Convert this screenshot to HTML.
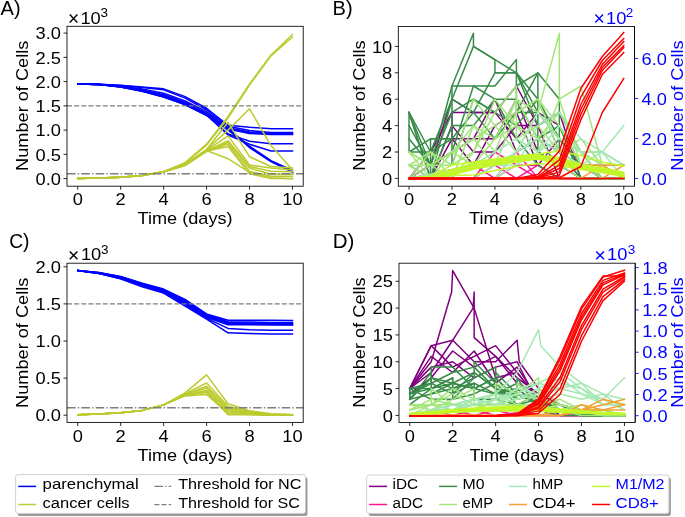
<!DOCTYPE html>
<html><head><meta charset="utf-8"><title>Figure</title>
<style>html,body{margin:0;padding:0;background:#fff;}svg{display:block;will-change:transform;}text{font-family:"Liberation Sans",sans-serif;}</style>
</head><body>
<svg width="685" height="517" viewBox="0 0 685 517">
<defs>
<filter id="soft" x="0" y="0" width="685" height="517" filterUnits="userSpaceOnUse"><feGaussianBlur stdDeviation="0.35"/></filter>
<clipPath id="cA"><rect x="67.0" y="26.3" width="236.2" height="159.89999999999998"/></clipPath>
<clipPath id="cB"><rect x="398.3" y="26.5" width="236.2" height="159.7"/></clipPath>
<clipPath id="cC"><rect x="67.0" y="263.2" width="236.2" height="159.2"/></clipPath>
<clipPath id="cD"><rect x="399.0" y="263.2" width="236.20000000000005" height="159.3"/></clipPath>
</defs>
<rect width="685" height="517" fill="#fff"/>
<g filter="url(#soft)">
<g clip-path="url(#cA)">
<polyline points="77.74,84.02 99.21,84.27 120.68,85.24 142.15,86.94 163.63,88.87 185.10,96.63 206.57,108.27 228.05,125.25 249.52,127.19 270.99,128.64 292.46,128.64" fill="none" stroke="#0000ff" stroke-width="1.5" stroke-linejoin="round" stroke-linecap="square"/>
<polyline points="77.74,84.02 99.21,84.27 120.68,85.48 142.15,87.42 163.63,89.84 185.10,98.09 206.57,109.73 228.05,126.22 249.52,130.58 270.99,132.53 292.46,132.53" fill="none" stroke="#0000ff" stroke-width="1.5" stroke-linejoin="round" stroke-linecap="square"/>
<polyline points="77.74,84.02 99.21,84.51 120.68,85.97 142.15,88.87 163.63,93.24 185.10,101.00 206.57,111.67 228.05,127.67 249.52,132.04 270.99,133.50 292.46,133.50" fill="none" stroke="#0000ff" stroke-width="1.5" stroke-linejoin="round" stroke-linecap="square"/>
<polyline points="77.74,84.02 99.21,84.51 120.68,86.45 142.15,89.84 163.63,94.69 185.10,102.45 206.57,113.12 228.05,128.64 249.52,132.53 270.99,133.98 292.46,133.98" fill="none" stroke="#0000ff" stroke-width="1.5" stroke-linejoin="round" stroke-linecap="square"/>
<polyline points="77.74,84.02 99.21,84.51 120.68,86.45 142.15,90.33 163.63,95.66 185.10,103.42 206.57,114.09 228.05,129.13 249.52,133.50 270.99,134.47 292.46,134.47" fill="none" stroke="#0000ff" stroke-width="1.5" stroke-linejoin="round" stroke-linecap="square"/>
<polyline points="77.74,84.02 99.21,84.51 120.68,86.94 142.15,90.81 163.63,96.63 185.10,103.91 206.57,114.58 228.05,133.98 249.52,141.25 270.99,143.68 292.46,143.68" fill="none" stroke="#0000ff" stroke-width="1.5" stroke-linejoin="round" stroke-linecap="square"/>
<polyline points="77.74,84.02 99.21,84.51 120.68,86.94 142.15,91.30 163.63,97.12 185.10,104.39 206.57,115.06 228.05,134.95 249.52,144.16 270.99,150.95 292.46,150.95" fill="none" stroke="#0000ff" stroke-width="1.5" stroke-linejoin="round" stroke-linecap="square"/>
<polyline points="77.74,84.02 99.21,84.51 120.68,86.94 142.15,91.30 163.63,97.12 185.10,104.88 206.57,115.55 228.05,130.10 249.52,146.10 270.99,160.66 292.46,170.35" fill="none" stroke="#0000ff" stroke-width="1.5" stroke-linejoin="round" stroke-linecap="square"/>
<polyline points="77.74,84.02 99.21,84.51 120.68,86.45 142.15,90.81 163.63,96.63 185.10,104.39 206.57,115.06 228.05,129.13 249.52,147.07 270.99,161.14 292.46,171.32" fill="none" stroke="#0000ff" stroke-width="1.5" stroke-linejoin="round" stroke-linecap="square"/>
<polyline points="77.74,84.02 99.21,84.51 120.68,86.45 142.15,90.33 163.63,96.15 185.10,103.91 206.57,114.09 228.05,128.16 249.52,147.56 270.99,161.62 292.46,172.29" fill="none" stroke="#0000ff" stroke-width="1.5" stroke-linejoin="round" stroke-linecap="square"/>
<polyline points="77.74,178.60 99.21,178.11 120.68,177.14 142.15,175.45 163.63,171.81 185.10,162.59 206.57,144.16 228.05,116.52 249.52,84.02 270.99,54.92 292.46,34.55" fill="none" stroke="#bccb30" stroke-width="1.5" stroke-linejoin="round" stroke-linecap="square"/>
<polyline points="77.74,178.60 99.21,178.11 120.68,177.14 142.15,175.45 163.63,171.81 185.10,163.08 206.57,145.13 228.05,117.97 249.52,84.99 270.99,55.90 292.46,36.98" fill="none" stroke="#bccb30" stroke-width="1.5" stroke-linejoin="round" stroke-linecap="square"/>
<polyline points="77.74,178.60 99.21,178.11 120.68,177.14 142.15,175.45 163.63,171.81 185.10,164.05 206.57,149.50 228.05,130.10 249.52,108.76 270.99,145.62 292.46,169.87" fill="none" stroke="#bccb30" stroke-width="1.5" stroke-linejoin="round" stroke-linecap="square"/>
<polyline points="77.74,178.60 99.21,178.11 120.68,177.14 142.15,175.45 163.63,171.81 185.10,164.53 206.57,149.50 228.05,122.34 249.52,156.78 270.99,166.47 292.46,167.93" fill="none" stroke="#bccb30" stroke-width="1.5" stroke-linejoin="round" stroke-linecap="square"/>
<polyline points="77.74,178.60 99.21,178.11 120.68,177.14 142.15,175.45 163.63,171.81 185.10,164.53 206.57,150.47 228.05,135.92 249.52,165.02 270.99,167.93 292.46,169.87" fill="none" stroke="#bccb30" stroke-width="1.5" stroke-linejoin="round" stroke-linecap="square"/>
<polyline points="77.74,178.60 99.21,178.11 120.68,177.14 142.15,175.45 163.63,171.81 185.10,165.02 206.57,150.95 228.05,140.77 249.52,166.47 270.99,171.32 292.46,171.81" fill="none" stroke="#bccb30" stroke-width="1.5" stroke-linejoin="round" stroke-linecap="square"/>
<polyline points="77.74,178.60 99.21,178.11 120.68,177.14 142.15,175.45 163.63,171.81 185.10,165.02 206.57,151.44 228.05,142.47 249.52,167.93 270.99,174.23 292.46,174.23" fill="none" stroke="#bccb30" stroke-width="1.5" stroke-linejoin="round" stroke-linecap="square"/>
<polyline points="77.74,178.60 99.21,178.11 120.68,177.14 142.15,175.45 163.63,171.81 185.10,165.50 206.57,151.44 228.05,144.16 249.52,171.32 270.99,176.17 292.46,176.17" fill="none" stroke="#bccb30" stroke-width="1.5" stroke-linejoin="round" stroke-linecap="square"/>
<polyline points="77.74,178.60 99.21,178.11 120.68,177.14 142.15,175.45 163.63,171.81 185.10,165.50 206.57,150.95 228.05,146.59 249.52,173.75 270.99,178.60 292.46,178.60" fill="none" stroke="#bccb30" stroke-width="1.5" stroke-linejoin="round" stroke-linecap="square"/>
<polyline points="77.74,178.60 99.21,178.11 120.68,177.14 142.15,175.45 163.63,171.81 185.10,165.02 206.57,150.47 228.05,158.72 249.52,172.29 270.99,177.63 292.46,178.60" fill="none" stroke="#bccb30" stroke-width="1.5" stroke-linejoin="round" stroke-linecap="square"/>
<line x1="67.00" y1="105.85" x2="303.20" y2="105.85" stroke="#7f7f7f" stroke-width="1.35" stroke-dasharray="5.00 2.16"/>
<line x1="67.00" y1="173.75" x2="303.20" y2="173.75" stroke="#7f7f7f" stroke-width="1.35" stroke-dasharray="8.64 2.16 1.35 2.16"/>
</g>
<rect x="67.0" y="26.3" width="236.20" height="159.90" fill="none" stroke="#000" stroke-width="0.85"/>
<line x1="77.74" y1="186.20" x2="77.74" y2="189.70" stroke="#000" stroke-width="0.85"/>
<text x="77.74" y="205.00" font-size="16.80" text-anchor="middle" fill="#000" textLength="10.18" lengthAdjust="spacingAndGlyphs">0</text>
<line x1="120.68" y1="186.20" x2="120.68" y2="189.70" stroke="#000" stroke-width="0.85"/>
<text x="120.68" y="205.00" font-size="16.80" text-anchor="middle" fill="#000" textLength="10.18" lengthAdjust="spacingAndGlyphs">2</text>
<line x1="163.63" y1="186.20" x2="163.63" y2="189.70" stroke="#000" stroke-width="0.85"/>
<text x="163.63" y="205.00" font-size="16.80" text-anchor="middle" fill="#000" textLength="10.18" lengthAdjust="spacingAndGlyphs">4</text>
<line x1="206.57" y1="186.20" x2="206.57" y2="189.70" stroke="#000" stroke-width="0.85"/>
<text x="206.57" y="205.00" font-size="16.80" text-anchor="middle" fill="#000" textLength="10.18" lengthAdjust="spacingAndGlyphs">6</text>
<line x1="249.52" y1="186.20" x2="249.52" y2="189.70" stroke="#000" stroke-width="0.85"/>
<text x="249.52" y="205.00" font-size="16.80" text-anchor="middle" fill="#000" textLength="10.18" lengthAdjust="spacingAndGlyphs">8</text>
<line x1="292.46" y1="186.20" x2="292.46" y2="189.70" stroke="#000" stroke-width="0.85"/>
<text x="292.46" y="205.00" font-size="16.80" text-anchor="middle" fill="#000" textLength="20.36" lengthAdjust="spacingAndGlyphs">10</text>
<line x1="63.50" y1="178.60" x2="67.00" y2="178.60" stroke="#000" stroke-width="0.85"/>
<text x="61.00" y="184.80" font-size="16.80" text-anchor="end" fill="#000" textLength="25.45" lengthAdjust="spacingAndGlyphs">0.0</text>
<line x1="63.50" y1="154.35" x2="67.00" y2="154.35" stroke="#000" stroke-width="0.85"/>
<text x="61.00" y="160.55" font-size="16.80" text-anchor="end" fill="#000" textLength="25.45" lengthAdjust="spacingAndGlyphs">0.5</text>
<line x1="63.50" y1="130.10" x2="67.00" y2="130.10" stroke="#000" stroke-width="0.85"/>
<text x="61.00" y="136.30" font-size="16.80" text-anchor="end" fill="#000" textLength="25.45" lengthAdjust="spacingAndGlyphs">1.0</text>
<line x1="63.50" y1="105.85" x2="67.00" y2="105.85" stroke="#000" stroke-width="0.85"/>
<text x="61.00" y="112.05" font-size="16.80" text-anchor="end" fill="#000" textLength="25.45" lengthAdjust="spacingAndGlyphs">1.5</text>
<line x1="63.50" y1="81.60" x2="67.00" y2="81.60" stroke="#000" stroke-width="0.85"/>
<text x="61.00" y="87.80" font-size="16.80" text-anchor="end" fill="#000" textLength="25.45" lengthAdjust="spacingAndGlyphs">2.0</text>
<line x1="63.50" y1="57.35" x2="67.00" y2="57.35" stroke="#000" stroke-width="0.85"/>
<text x="61.00" y="63.55" font-size="16.80" text-anchor="end" fill="#000" textLength="25.45" lengthAdjust="spacingAndGlyphs">2.5</text>
<line x1="63.50" y1="33.10" x2="67.00" y2="33.10" stroke="#000" stroke-width="0.85"/>
<text x="61.00" y="39.30" font-size="16.80" text-anchor="end" fill="#000" textLength="25.45" lengthAdjust="spacingAndGlyphs">3.0</text>
<path d="M69.70,14.55 L77.40,22.45 M77.40,14.55 L69.70,22.45" stroke="#000" stroke-width="1.4" fill="none"/>
<text x="80.40" y="23.50" font-size="16.80" text-anchor="start" fill="#000" textLength="20.36" lengthAdjust="spacingAndGlyphs">10</text>
<text x="100.60" y="17.20" font-size="12.39" text-anchor="start" fill="#000" textLength="7.51" lengthAdjust="spacingAndGlyphs">3</text>
<text x="185.10" y="223.70" font-size="16.80" text-anchor="middle" fill="#000" textLength="94.98" lengthAdjust="spacingAndGlyphs">Time (days)</text>
<text transform="translate(28.20,105.80) rotate(-90)" x="0" y="0" font-size="16.80" text-anchor="middle" fill="#000" textLength="130.31" lengthAdjust="spacingAndGlyphs">Number of Cells</text>
<text x="0.50" y="14.90" font-size="19.60" text-anchor="start" fill="#000" textLength="20.06" lengthAdjust="spacingAndGlyphs">A)</text>
<g clip-path="url(#cC)">
<polyline points="77.74,270.51 99.21,272.44 120.68,276.45 142.15,283.12 163.63,289.06 185.10,299.45 206.57,313.92 228.05,320.22 249.52,320.22 270.99,320.37 292.46,320.45" fill="none" stroke="#0000ff" stroke-width="1.5" stroke-linejoin="round" stroke-linecap="square"/>
<polyline points="77.74,270.51 99.21,272.74 120.68,276.82 142.15,283.50 163.63,289.80 185.10,300.56 206.57,314.66 228.05,321.71 249.52,322.08 270.99,322.45 292.46,322.45" fill="none" stroke="#0000ff" stroke-width="1.5" stroke-linejoin="round" stroke-linecap="square"/>
<polyline points="77.74,270.51 99.21,272.74 120.68,277.19 142.15,283.87 163.63,290.54 185.10,301.67 206.57,315.40 228.05,322.45 249.52,323.19 270.99,323.19 292.46,323.19" fill="none" stroke="#0000ff" stroke-width="1.5" stroke-linejoin="round" stroke-linecap="square"/>
<polyline points="77.74,270.51 99.21,273.11 120.68,277.56 142.15,284.24 163.63,291.29 185.10,302.42 206.57,316.14 228.05,323.19 249.52,323.56 270.99,323.93 292.46,323.93" fill="none" stroke="#0000ff" stroke-width="1.5" stroke-linejoin="round" stroke-linecap="square"/>
<polyline points="77.74,270.51 99.21,273.26 120.68,277.93 142.15,284.61 163.63,291.66 185.10,303.16 206.57,316.88 228.05,323.93 249.52,324.30 270.99,324.68 292.46,324.68" fill="none" stroke="#0000ff" stroke-width="1.5" stroke-linejoin="round" stroke-linecap="square"/>
<polyline points="77.74,270.51 99.21,273.48 120.68,278.30 142.15,285.35 163.63,292.03 185.10,303.90 206.57,317.63 228.05,324.68 249.52,324.68 270.99,324.82 292.46,324.90" fill="none" stroke="#0000ff" stroke-width="1.5" stroke-linejoin="round" stroke-linecap="square"/>
<polyline points="77.74,270.51 99.21,273.48 120.68,278.67 142.15,286.09 163.63,292.77 185.10,305.01 206.57,318.37 228.05,328.39 249.52,329.87 270.99,330.24 292.46,330.32" fill="none" stroke="#0000ff" stroke-width="1.5" stroke-linejoin="round" stroke-linecap="square"/>
<polyline points="77.74,270.51 99.21,273.55 120.68,278.89 142.15,286.83 163.63,293.14 185.10,306.13 206.57,319.11 228.05,332.84 249.52,333.58 270.99,333.95 292.46,334.10" fill="none" stroke="#0000ff" stroke-width="1.5" stroke-linejoin="round" stroke-linecap="square"/>
<polyline points="77.74,414.68 99.21,414.09 120.68,412.75 142.15,410.38 163.63,404.89 185.10,392.94 206.57,374.91 228.05,403.77 249.52,410.75 270.99,413.72 292.46,414.83" fill="none" stroke="#bccb30" stroke-width="1.5" stroke-linejoin="round" stroke-linecap="square"/>
<polyline points="77.74,414.68 99.21,414.09 120.68,412.75 142.15,410.38 163.63,404.89 185.10,393.68 206.57,383.00 228.05,406.30 249.52,411.49 270.99,414.09 292.46,414.83" fill="none" stroke="#bccb30" stroke-width="1.5" stroke-linejoin="round" stroke-linecap="square"/>
<polyline points="77.74,414.68 99.21,414.09 120.68,412.75 142.15,410.38 163.63,404.89 185.10,394.42 206.57,386.26 228.05,407.78 249.52,412.23 270.99,414.46 292.46,414.83" fill="none" stroke="#bccb30" stroke-width="1.5" stroke-linejoin="round" stroke-linecap="square"/>
<polyline points="77.74,414.68 99.21,414.09 120.68,412.75 142.15,410.38 163.63,404.89 185.10,394.42 206.57,388.04 228.05,409.26 249.52,412.97 270.99,414.46 292.46,414.83" fill="none" stroke="#bccb30" stroke-width="1.5" stroke-linejoin="round" stroke-linecap="square"/>
<polyline points="77.74,414.68 99.21,414.09 120.68,412.75 142.15,410.38 163.63,404.89 185.10,395.17 206.57,390.19 228.05,410.75 249.52,413.72 270.99,414.46 292.46,415.20" fill="none" stroke="#bccb30" stroke-width="1.5" stroke-linejoin="round" stroke-linecap="square"/>
<polyline points="77.74,414.68 99.21,414.09 120.68,412.75 142.15,410.38 163.63,404.89 185.10,395.17 206.57,392.42 228.05,412.23 249.52,413.72 270.99,414.83 292.46,415.20" fill="none" stroke="#bccb30" stroke-width="1.5" stroke-linejoin="round" stroke-linecap="square"/>
<polyline points="77.74,414.68 99.21,414.09 120.68,412.75 142.15,410.38 163.63,404.89 185.10,395.91 206.57,394.42 228.05,413.72 249.52,414.46 270.99,415.20 292.46,415.20" fill="none" stroke="#bccb30" stroke-width="1.5" stroke-linejoin="round" stroke-linecap="square"/>
<polyline points="77.74,414.68 99.21,414.09 120.68,412.75 142.15,410.38 163.63,404.89 185.10,395.17 206.57,391.46 228.05,414.68 249.52,414.83 270.99,415.20 292.46,415.20" fill="none" stroke="#bccb30" stroke-width="1.5" stroke-linejoin="round" stroke-linecap="square"/>
<line x1="67.00" y1="303.90" x2="303.20" y2="303.90" stroke="#7f7f7f" stroke-width="1.35" stroke-dasharray="5.00 2.16"/>
<line x1="67.00" y1="407.78" x2="303.20" y2="407.78" stroke="#7f7f7f" stroke-width="1.35" stroke-dasharray="8.64 2.16 1.35 2.16"/>
</g>
<rect x="67.0" y="263.2" width="236.20" height="159.20" fill="none" stroke="#000" stroke-width="0.85"/>
<line x1="77.74" y1="422.40" x2="77.74" y2="425.90" stroke="#000" stroke-width="0.85"/>
<text x="77.74" y="441.90" font-size="16.80" text-anchor="middle" fill="#000" textLength="10.18" lengthAdjust="spacingAndGlyphs">0</text>
<line x1="120.68" y1="422.40" x2="120.68" y2="425.90" stroke="#000" stroke-width="0.85"/>
<text x="120.68" y="441.90" font-size="16.80" text-anchor="middle" fill="#000" textLength="10.18" lengthAdjust="spacingAndGlyphs">2</text>
<line x1="163.63" y1="422.40" x2="163.63" y2="425.90" stroke="#000" stroke-width="0.85"/>
<text x="163.63" y="441.90" font-size="16.80" text-anchor="middle" fill="#000" textLength="10.18" lengthAdjust="spacingAndGlyphs">4</text>
<line x1="206.57" y1="422.40" x2="206.57" y2="425.90" stroke="#000" stroke-width="0.85"/>
<text x="206.57" y="441.90" font-size="16.80" text-anchor="middle" fill="#000" textLength="10.18" lengthAdjust="spacingAndGlyphs">6</text>
<line x1="249.52" y1="422.40" x2="249.52" y2="425.90" stroke="#000" stroke-width="0.85"/>
<text x="249.52" y="441.90" font-size="16.80" text-anchor="middle" fill="#000" textLength="10.18" lengthAdjust="spacingAndGlyphs">8</text>
<line x1="292.46" y1="422.40" x2="292.46" y2="425.90" stroke="#000" stroke-width="0.85"/>
<text x="292.46" y="441.90" font-size="16.80" text-anchor="middle" fill="#000" textLength="20.36" lengthAdjust="spacingAndGlyphs">10</text>
<line x1="63.50" y1="415.20" x2="67.00" y2="415.20" stroke="#000" stroke-width="0.85"/>
<text x="61.00" y="421.40" font-size="16.80" text-anchor="end" fill="#000" textLength="25.45" lengthAdjust="spacingAndGlyphs">0.0</text>
<line x1="63.50" y1="378.10" x2="67.00" y2="378.10" stroke="#000" stroke-width="0.85"/>
<text x="61.00" y="384.30" font-size="16.80" text-anchor="end" fill="#000" textLength="25.45" lengthAdjust="spacingAndGlyphs">0.5</text>
<line x1="63.50" y1="341.00" x2="67.00" y2="341.00" stroke="#000" stroke-width="0.85"/>
<text x="61.00" y="347.20" font-size="16.80" text-anchor="end" fill="#000" textLength="25.45" lengthAdjust="spacingAndGlyphs">1.0</text>
<line x1="63.50" y1="303.90" x2="67.00" y2="303.90" stroke="#000" stroke-width="0.85"/>
<text x="61.00" y="310.10" font-size="16.80" text-anchor="end" fill="#000" textLength="25.45" lengthAdjust="spacingAndGlyphs">1.5</text>
<line x1="63.50" y1="266.80" x2="67.00" y2="266.80" stroke="#000" stroke-width="0.85"/>
<text x="61.00" y="273.00" font-size="16.80" text-anchor="end" fill="#000" textLength="25.45" lengthAdjust="spacingAndGlyphs">2.0</text>
<path d="M69.75,251.45 L77.45,259.35 M77.45,251.45 L69.75,259.35" stroke="#000" stroke-width="1.4" fill="none"/>
<text x="80.90" y="260.40" font-size="16.80" text-anchor="start" fill="#000" textLength="20.36" lengthAdjust="spacingAndGlyphs">10</text>
<text x="101.00" y="254.10" font-size="12.39" text-anchor="start" fill="#000" textLength="7.51" lengthAdjust="spacingAndGlyphs">3</text>
<text x="185.10" y="460.60" font-size="16.80" text-anchor="middle" fill="#000" textLength="94.98" lengthAdjust="spacingAndGlyphs">Time (days)</text>
<text transform="translate(28.20,342.80) rotate(-90)" x="0" y="0" font-size="16.80" text-anchor="middle" fill="#000" textLength="130.31" lengthAdjust="spacingAndGlyphs">Number of Cells</text>
<text x="9.20" y="247.90" font-size="19.60" text-anchor="start" fill="#000" textLength="20.32" lengthAdjust="spacingAndGlyphs">C)</text>
<g clip-path="url(#cB)">
<polyline points="409.04,178.40 430.51,165.20 451.98,99.20 473.45,112.40 494.93,112.40 516.40,86.00 537.87,125.60 559.35,112.40 580.82,178.40 602.29,178.40 623.76,178.40" fill="none" stroke="#800080" stroke-width="1.5" stroke-linejoin="round" stroke-linecap="square"/>
<polyline points="409.04,178.40 430.51,152.00 451.98,112.40 473.45,112.40 494.93,112.40 516.40,138.80 537.87,112.40 559.35,125.60 580.82,165.20 602.29,178.40 623.76,178.40" fill="none" stroke="#800080" stroke-width="1.5" stroke-linejoin="round" stroke-linecap="square"/>
<polyline points="409.04,178.40 430.51,178.40 451.98,138.80 473.45,138.80 494.93,138.80 516.40,99.20 537.87,152.00 559.35,165.20 580.82,178.40 602.29,178.40 623.76,178.40" fill="none" stroke="#800080" stroke-width="1.5" stroke-linejoin="round" stroke-linecap="square"/>
<polyline points="409.04,178.40 430.51,165.20 451.98,152.00 473.45,138.80 494.93,99.20 516.40,152.00 537.87,138.80 559.35,152.00 580.82,178.40 602.29,178.40 623.76,178.40" fill="none" stroke="#800080" stroke-width="1.5" stroke-linejoin="round" stroke-linecap="square"/>
<polyline points="409.04,178.40 430.51,152.00 451.98,112.40 451.98,138.80 473.45,165.20 494.93,125.60 516.40,112.40 537.87,165.20 559.35,138.80 580.82,165.20 602.29,178.40 623.76,178.40" fill="none" stroke="#800080" stroke-width="1.5" stroke-linejoin="round" stroke-linecap="square"/>
<polyline points="409.04,178.40 430.51,178.40 451.98,125.60 473.45,152.00 494.93,152.00 516.40,125.60 537.87,125.60 559.35,178.40 580.82,178.40 602.29,178.40 623.76,178.40" fill="none" stroke="#800080" stroke-width="1.5" stroke-linejoin="round" stroke-linecap="square"/>
<polyline points="409.04,178.40 473.45,178.40 494.93,165.20 516.40,178.40 537.87,165.20 559.35,178.40 623.76,178.40" fill="none" stroke="#ff1493" stroke-width="1.5" stroke-linejoin="round" stroke-linecap="square"/>
<polyline points="409.04,178.40 473.45,165.20 494.93,178.40 516.40,165.20 537.87,178.40 559.35,178.40 623.76,178.40" fill="none" stroke="#ff1493" stroke-width="1.5" stroke-linejoin="round" stroke-linecap="square"/>
<polyline points="409.04,178.40 494.93,178.40 516.40,152.00 537.87,178.40 623.76,178.40" fill="none" stroke="#ff1493" stroke-width="1.5" stroke-linejoin="round" stroke-linecap="square"/>
<polyline points="409.04,178.40 473.45,178.40 494.93,152.00 516.40,165.20 537.87,165.20 559.35,178.40 623.76,178.40" fill="none" stroke="#ff1493" stroke-width="1.5" stroke-linejoin="round" stroke-linecap="square"/>
<polyline points="409.04,112.40 430.51,165.20 451.98,86.00 473.45,33.20 473.45,46.40 494.93,59.60 516.40,72.80 537.87,112.40 559.35,138.80 580.82,165.20 602.29,178.40 623.76,178.40" fill="none" stroke="#378c47" stroke-width="1.5" stroke-linejoin="round" stroke-linecap="square"/>
<polyline points="409.04,112.40 430.51,178.40 451.98,99.20 473.45,46.40 494.93,59.60 494.93,72.80 516.40,72.80 537.87,99.20 559.35,152.00 580.82,178.40 602.29,178.40 623.76,178.40" fill="none" stroke="#378c47" stroke-width="1.5" stroke-linejoin="round" stroke-linecap="square"/>
<polyline points="409.04,112.40 430.51,178.40 430.51,138.80 451.98,138.80 451.98,86.00 473.45,86.00 494.93,86.00 516.40,59.60 516.40,112.40 537.87,72.80 559.35,99.20 559.35,152.00 580.82,165.20 602.29,178.40 623.76,178.40" fill="none" stroke="#378c47" stroke-width="1.5" stroke-linejoin="round" stroke-linecap="square"/>
<polyline points="409.04,125.60 430.51,165.20 451.98,112.40 473.45,99.20 494.93,112.40 516.40,86.00 537.87,72.80 537.87,152.00 559.35,165.20 580.82,178.40 602.29,178.40 623.76,178.40" fill="none" stroke="#378c47" stroke-width="1.5" stroke-linejoin="round" stroke-linecap="square"/>
<polyline points="409.04,152.00 430.51,152.00 451.98,138.80 473.45,112.40 494.93,72.80 516.40,72.80 537.87,125.60 559.35,112.40 580.82,152.00 602.29,178.40 623.76,178.40" fill="none" stroke="#378c47" stroke-width="1.5" stroke-linejoin="round" stroke-linecap="square"/>
<polyline points="409.04,112.40 409.04,152.00 430.51,138.80 451.98,138.80 451.98,165.20 473.45,99.20 494.93,112.40 516.40,125.60 537.87,99.20 559.35,138.80 580.82,165.20 602.29,165.20 623.76,178.40" fill="none" stroke="#378c47" stroke-width="1.5" stroke-linejoin="round" stroke-linecap="square"/>
<polyline points="409.04,138.80 430.51,165.20 451.98,152.00 473.45,86.00 494.93,99.20 516.40,99.20 537.87,138.80 559.35,125.60 580.82,178.40 602.29,178.40 623.76,178.40" fill="none" stroke="#378c47" stroke-width="1.5" stroke-linejoin="round" stroke-linecap="square"/>
<polyline points="409.04,112.40 430.51,152.00 451.98,99.20 473.45,112.40 494.93,138.80 516.40,112.40 537.87,112.40 559.35,138.80 580.82,152.00 602.29,165.20 623.76,178.40" fill="none" stroke="#378c47" stroke-width="1.5" stroke-linejoin="round" stroke-linecap="square"/>
<polyline points="409.04,165.20 430.51,178.40 451.98,125.60 473.45,125.60 494.93,99.20 516.40,138.80 537.87,165.20 559.35,178.40 580.82,178.40 602.29,178.40 623.76,178.40" fill="none" stroke="#378c47" stroke-width="1.5" stroke-linejoin="round" stroke-linecap="square"/>
<polyline points="409.04,152.00 430.51,178.40 451.98,152.00 473.45,125.60 494.93,138.80 516.40,99.20 537.87,112.40 559.35,33.20 559.35,99.20 580.82,86.00 602.29,165.20 623.76,178.40" fill="none" stroke="#a3e67a" stroke-width="1.5" stroke-linejoin="round" stroke-linecap="square"/>
<polyline points="409.04,165.20 430.51,152.00 451.98,178.40 473.45,152.00 494.93,99.20 516.40,125.60 537.87,138.80 559.35,112.40 580.82,152.00 602.29,152.00 623.76,165.20" fill="none" stroke="#a3e67a" stroke-width="1.5" stroke-linejoin="round" stroke-linecap="square"/>
<polyline points="409.04,178.40 430.51,165.20 451.98,152.00 473.45,138.80 494.93,165.20 516.40,112.40 537.87,99.20 559.35,125.60 580.82,165.20 602.29,165.20 623.76,178.40" fill="none" stroke="#a3e67a" stroke-width="1.5" stroke-linejoin="round" stroke-linecap="square"/>
<polyline points="409.04,152.00 430.51,165.20 451.98,165.20 473.45,99.20 494.93,125.60 516.40,152.00 537.87,112.40 559.35,138.80 580.82,152.00 602.29,178.40 623.76,178.40" fill="none" stroke="#a3e67a" stroke-width="1.5" stroke-linejoin="round" stroke-linecap="square"/>
<polyline points="409.04,165.20 430.51,178.40 451.98,152.00 473.45,165.20 494.93,138.80 516.40,125.60 537.87,152.00 559.35,99.20 580.82,165.20 602.29,165.20 623.76,178.40" fill="none" stroke="#a3e67a" stroke-width="1.5" stroke-linejoin="round" stroke-linecap="square"/>
<polyline points="409.04,178.40 430.51,152.00 451.98,165.20 473.45,152.00 494.93,112.40 516.40,86.00 516.40,138.80 537.87,125.60 559.35,152.00 580.82,138.80 602.29,165.20 623.76,165.20" fill="none" stroke="#a3e67a" stroke-width="1.5" stroke-linejoin="round" stroke-linecap="square"/>
<polyline points="409.04,152.00 430.51,165.20 451.98,178.40 473.45,125.60 494.93,152.00 516.40,99.20 537.87,138.80 559.35,165.20 580.82,178.40 602.29,178.40 623.76,178.40" fill="none" stroke="#a3e67a" stroke-width="1.5" stroke-linejoin="round" stroke-linecap="square"/>
<polyline points="409.04,165.20 430.51,165.20 451.98,152.00 473.45,138.80 494.93,125.60 516.40,112.40 537.87,99.20 559.35,152.00 580.82,165.20 602.29,178.40 623.76,178.40" fill="none" stroke="#a3e67a" stroke-width="1.5" stroke-linejoin="round" stroke-linecap="square"/>
<polyline points="409.04,178.40 473.45,178.40 494.93,165.20 516.40,152.00 537.87,138.80 559.35,152.00 580.82,165.20 602.29,152.00 623.76,125.60" fill="none" stroke="#a4e8b2" stroke-width="1.5" stroke-linejoin="round" stroke-linecap="square"/>
<polyline points="409.04,178.40 473.45,178.40 494.93,178.40 516.40,152.00 537.87,112.40 559.35,138.80 580.82,152.00 602.29,165.20 623.76,165.20" fill="none" stroke="#a4e8b2" stroke-width="1.5" stroke-linejoin="round" stroke-linecap="square"/>
<polyline points="409.04,178.40 494.93,178.40 516.40,165.20 537.87,152.00 559.35,125.60 580.82,152.00 602.29,165.20 623.76,165.20" fill="none" stroke="#a4e8b2" stroke-width="1.5" stroke-linejoin="round" stroke-linecap="square"/>
<polyline points="409.04,178.40 494.93,165.20 516.40,165.20 537.87,125.60 559.35,112.40 580.82,138.80 602.29,152.00 623.76,178.40" fill="none" stroke="#a4e8b2" stroke-width="1.5" stroke-linejoin="round" stroke-linecap="square"/>
<polyline points="409.04,178.40 473.45,165.20 494.93,152.00 516.40,138.80 537.87,152.00 559.35,138.80 580.82,152.00 602.29,152.00 623.76,165.20" fill="none" stroke="#a4e8b2" stroke-width="1.5" stroke-linejoin="round" stroke-linecap="square"/>
<polyline points="409.04,178.40 430.51,178.40 451.98,178.40 473.45,178.40 494.93,178.40 516.40,178.40 537.87,178.40 559.35,178.40 580.82,178.40 602.29,165.20 623.76,178.40" fill="none" stroke="#f5a030" stroke-width="1.5" stroke-linejoin="round" stroke-linecap="square"/>
<polyline points="409.04,178.40 430.51,178.40 451.98,178.40 473.45,178.40 494.93,178.40 516.40,178.40 537.87,178.40 559.35,178.40 580.82,165.20 602.29,165.20 623.76,165.20" fill="none" stroke="#f5a030" stroke-width="1.5" stroke-linejoin="round" stroke-linecap="square"/>
<polyline points="409.04,178.40 430.51,178.40 451.98,178.40 473.45,178.40 494.93,178.40 516.40,178.40 537.87,178.40 559.35,178.40 580.82,178.40 602.29,178.40 623.76,165.20" fill="none" stroke="#f5a030" stroke-width="1.5" stroke-linejoin="round" stroke-linecap="square"/>
<polyline points="409.04,178.50 430.51,176.10 451.98,165.10 473.45,161.90 494.93,159.10 516.40,156.10 537.87,153.90 559.35,151.10 580.82,155.50 602.29,162.10 623.76,166.10" fill="none" stroke="#c2f72a" stroke-width="1.5" stroke-linejoin="round" stroke-linecap="square"/>
<polyline points="409.04,178.50 430.51,176.50 451.98,169.50 473.45,163.50 494.93,160.10 516.40,157.10 537.87,154.90 559.35,157.50 580.82,164.50 602.29,167.70 623.76,172.30" fill="none" stroke="#c2f72a" stroke-width="1.5" stroke-linejoin="round" stroke-linecap="square"/>
<polyline points="409.04,178.50 430.51,176.90 451.98,170.90 473.45,164.90 494.93,161.10 516.40,158.10 537.87,155.90 559.35,158.50 580.82,165.50 602.29,168.90 623.76,173.10" fill="none" stroke="#c2f72a" stroke-width="1.5" stroke-linejoin="round" stroke-linecap="square"/>
<polyline points="409.04,178.50 430.51,177.10 451.98,172.10 473.45,166.10 494.93,162.10 516.40,159.10 537.87,156.90 559.35,159.50 580.82,166.50 602.29,169.90 623.76,174.10" fill="none" stroke="#c2f72a" stroke-width="1.5" stroke-linejoin="round" stroke-linecap="square"/>
<polyline points="409.04,178.50 430.51,177.30 451.98,173.10 473.45,167.30 494.93,163.10 516.40,160.10 537.87,157.90 559.35,160.90 580.82,167.50 602.29,170.90 623.76,174.90" fill="none" stroke="#c2f72a" stroke-width="1.5" stroke-linejoin="round" stroke-linecap="square"/>
<polyline points="409.04,178.50 430.51,177.50 451.98,174.10 473.45,168.50 494.93,164.10 516.40,160.90 537.87,158.70 559.35,162.50 580.82,168.10 602.29,171.50 623.76,175.70" fill="none" stroke="#c2f72a" stroke-width="1.5" stroke-linejoin="round" stroke-linecap="square"/>
<polyline points="409.04,178.50 430.51,177.70 451.98,175.10 473.45,169.30 494.93,164.90 516.40,161.90 537.87,158.90 559.35,164.50 580.82,168.70 602.29,172.30 623.76,176.50" fill="none" stroke="#c2f72a" stroke-width="1.5" stroke-linejoin="round" stroke-linecap="square"/>
<polyline points="409.04,178.50 430.51,177.90 451.98,175.50 473.45,175.10 494.93,170.50 516.40,166.50 537.87,163.50 559.35,165.50 580.82,169.50 602.29,172.50 623.76,176.10" fill="none" stroke="#c2f72a" stroke-width="1.5" stroke-linejoin="round" stroke-linecap="square"/>
<polyline points="409.04,178.50 430.51,178.50 451.98,178.50 473.45,178.50 494.93,178.50 516.40,178.50 537.87,174.50 559.35,151.10 580.82,88.50 602.29,56.50 623.76,32.50" fill="none" stroke="#ff0000" stroke-width="1.5" stroke-linejoin="round" stroke-linecap="square"/>
<polyline points="409.04,178.50 430.51,178.50 451.98,178.50 473.45,178.50 494.93,178.50 516.40,178.50 537.87,176.50 559.35,159.90 580.82,97.10 602.29,60.50 623.76,38.50" fill="none" stroke="#ff0000" stroke-width="1.5" stroke-linejoin="round" stroke-linecap="square"/>
<polyline points="409.04,178.50 430.51,178.50 451.98,178.50 473.45,178.50 494.93,178.50 516.40,178.50 537.87,177.50 559.35,165.10 580.82,104.50 602.29,64.50 623.76,41.50" fill="none" stroke="#ff0000" stroke-width="1.5" stroke-linejoin="round" stroke-linecap="square"/>
<polyline points="409.04,178.50 430.51,178.50 451.98,178.50 473.45,178.50 494.93,178.50 516.40,178.50 537.87,177.90 559.35,168.50 580.82,109.50 602.29,67.50 623.76,45.50" fill="none" stroke="#ff0000" stroke-width="1.5" stroke-linejoin="round" stroke-linecap="square"/>
<polyline points="409.04,178.50 430.51,178.50 451.98,178.50 473.45,178.50 494.93,178.50 516.40,178.50 537.87,178.10 559.35,171.90 580.82,114.50 602.29,70.50 623.76,47.50" fill="none" stroke="#ff0000" stroke-width="1.5" stroke-linejoin="round" stroke-linecap="square"/>
<polyline points="409.04,178.50 430.51,178.50 451.98,178.50 473.45,178.50 494.93,178.50 516.40,178.50 537.87,178.50 559.35,175.30 580.82,119.90 602.29,74.50 623.76,52.50" fill="none" stroke="#ff0000" stroke-width="1.5" stroke-linejoin="round" stroke-linecap="square"/>
<polyline points="409.04,178.50 430.51,178.50 451.98,178.50 473.45,178.50 494.93,178.50 516.40,178.50 537.87,178.50 559.35,177.70 580.82,166.50 602.29,112.50 623.76,78.50" fill="none" stroke="#ff0000" stroke-width="1.5" stroke-linejoin="round" stroke-linecap="square"/>
<polyline points="409.04,178.50 430.51,178.50 451.98,178.50 473.45,178.50 494.93,178.50 516.40,178.50 537.87,178.50 559.35,178.50 580.82,178.50 602.29,178.50 623.76,178.50" fill="none" stroke="#ff0000" stroke-width="1.5" stroke-linejoin="round" stroke-linecap="square"/>
</g>
<rect x="398.3" y="26.5" width="236.20" height="159.70" fill="none" stroke="#000" stroke-width="0.85"/>
<line x1="634.50" y1="26.50" x2="634.50" y2="186.20" stroke="#000" stroke-width="0.85"/>
<line x1="409.04" y1="186.20" x2="409.04" y2="189.70" stroke="#000" stroke-width="0.85"/>
<text x="409.04" y="205.00" font-size="16.80" text-anchor="middle" fill="#000" textLength="10.18" lengthAdjust="spacingAndGlyphs">0</text>
<line x1="451.98" y1="186.20" x2="451.98" y2="189.70" stroke="#000" stroke-width="0.85"/>
<text x="451.98" y="205.00" font-size="16.80" text-anchor="middle" fill="#000" textLength="10.18" lengthAdjust="spacingAndGlyphs">2</text>
<line x1="494.93" y1="186.20" x2="494.93" y2="189.70" stroke="#000" stroke-width="0.85"/>
<text x="494.93" y="205.00" font-size="16.80" text-anchor="middle" fill="#000" textLength="10.18" lengthAdjust="spacingAndGlyphs">4</text>
<line x1="537.87" y1="186.20" x2="537.87" y2="189.70" stroke="#000" stroke-width="0.85"/>
<text x="537.87" y="205.00" font-size="16.80" text-anchor="middle" fill="#000" textLength="10.18" lengthAdjust="spacingAndGlyphs">6</text>
<line x1="580.82" y1="186.20" x2="580.82" y2="189.70" stroke="#000" stroke-width="0.85"/>
<text x="580.82" y="205.00" font-size="16.80" text-anchor="middle" fill="#000" textLength="10.18" lengthAdjust="spacingAndGlyphs">8</text>
<line x1="623.76" y1="186.20" x2="623.76" y2="189.70" stroke="#000" stroke-width="0.85"/>
<text x="623.76" y="205.00" font-size="16.80" text-anchor="middle" fill="#000" textLength="20.36" lengthAdjust="spacingAndGlyphs">10</text>
<line x1="394.80" y1="178.40" x2="398.30" y2="178.40" stroke="#000" stroke-width="0.85"/>
<text x="392.30" y="184.60" font-size="16.80" text-anchor="end" fill="#000" textLength="10.18" lengthAdjust="spacingAndGlyphs">0</text>
<line x1="394.80" y1="152.00" x2="398.30" y2="152.00" stroke="#000" stroke-width="0.85"/>
<text x="392.30" y="158.20" font-size="16.80" text-anchor="end" fill="#000" textLength="10.18" lengthAdjust="spacingAndGlyphs">2</text>
<line x1="394.80" y1="125.60" x2="398.30" y2="125.60" stroke="#000" stroke-width="0.85"/>
<text x="392.30" y="131.80" font-size="16.80" text-anchor="end" fill="#000" textLength="10.18" lengthAdjust="spacingAndGlyphs">4</text>
<line x1="394.80" y1="99.20" x2="398.30" y2="99.20" stroke="#000" stroke-width="0.85"/>
<text x="392.30" y="105.40" font-size="16.80" text-anchor="end" fill="#000" textLength="10.18" lengthAdjust="spacingAndGlyphs">6</text>
<line x1="394.80" y1="72.80" x2="398.30" y2="72.80" stroke="#000" stroke-width="0.85"/>
<text x="392.30" y="79.00" font-size="16.80" text-anchor="end" fill="#000" textLength="10.18" lengthAdjust="spacingAndGlyphs">8</text>
<line x1="394.80" y1="46.40" x2="398.30" y2="46.40" stroke="#000" stroke-width="0.85"/>
<text x="392.30" y="52.60" font-size="16.80" text-anchor="end" fill="#000" textLength="20.36" lengthAdjust="spacingAndGlyphs">10</text>
<line x1="634.50" y1="178.50" x2="638.00" y2="178.50" stroke="#0000ff" stroke-width="0.85"/>
<text x="641.50" y="184.70" font-size="16.80" text-anchor="start" fill="#0000ff" textLength="25.45" lengthAdjust="spacingAndGlyphs">0.0</text>
<line x1="634.50" y1="138.50" x2="638.00" y2="138.50" stroke="#0000ff" stroke-width="0.85"/>
<text x="641.50" y="144.70" font-size="16.80" text-anchor="start" fill="#0000ff" textLength="25.45" lengthAdjust="spacingAndGlyphs">2.0</text>
<line x1="634.50" y1="98.50" x2="638.00" y2="98.50" stroke="#0000ff" stroke-width="0.85"/>
<text x="641.50" y="104.70" font-size="16.80" text-anchor="start" fill="#0000ff" textLength="25.45" lengthAdjust="spacingAndGlyphs">4.0</text>
<line x1="634.50" y1="58.50" x2="638.00" y2="58.50" stroke="#0000ff" stroke-width="0.85"/>
<text x="641.50" y="64.70" font-size="16.80" text-anchor="start" fill="#0000ff" textLength="25.45" lengthAdjust="spacingAndGlyphs">6.0</text>
<path d="M595.35,14.55 L603.05,22.45 M603.05,14.55 L595.35,22.45" stroke="#0000ff" stroke-width="1.4" fill="none"/>
<text x="606.10" y="23.50" font-size="16.80" text-anchor="start" fill="#0000ff" textLength="20.36" lengthAdjust="spacingAndGlyphs">10</text>
<text x="625.80" y="17.20" font-size="12.39" text-anchor="start" fill="#0000ff" textLength="7.51" lengthAdjust="spacingAndGlyphs">2</text>
<text x="516.60" y="223.70" font-size="16.80" text-anchor="middle" fill="#000" textLength="94.98" lengthAdjust="spacingAndGlyphs">Time (days)</text>
<text transform="translate(364.50,105.50) rotate(-90)" x="0" y="0" font-size="16.80" text-anchor="middle" fill="#000" textLength="130.31" lengthAdjust="spacingAndGlyphs">Number of Cells</text>
<text transform="translate(683.30,105.50) rotate(-90)" x="0" y="0" font-size="16.80" text-anchor="middle" fill="#0000ff" textLength="130.31" lengthAdjust="spacingAndGlyphs">Number of Cells</text>
<text x="332.50" y="14.90" font-size="19.60" text-anchor="start" fill="#000" textLength="20.09" lengthAdjust="spacingAndGlyphs">B)</text>
<g clip-path="url(#cD)">
<polyline points="409.74,388.57 431.21,361.75 451.61,292.00 452.68,270.54 474.15,308.10 495.63,377.84 517.10,372.48 538.57,399.30 560.05,410.03 581.52,415.40 602.99,415.40 624.46,415.40" fill="none" stroke="#800080" stroke-width="1.5" stroke-linejoin="round" stroke-linecap="square"/>
<polyline points="409.74,388.57 431.21,372.48 452.68,340.29 473.08,308.10 474.15,292.00 474.15,337.61 495.63,356.38 517.10,383.21 538.57,393.94 560.05,410.03 581.52,415.40 602.99,415.40 624.46,415.40" fill="none" stroke="#800080" stroke-width="1.5" stroke-linejoin="round" stroke-linecap="square"/>
<polyline points="409.74,388.57 431.21,345.65 452.68,340.29 474.15,361.75 495.63,361.75 517.10,340.29 519.25,361.75 538.57,388.57 560.05,404.67 581.52,415.40 602.99,415.40 624.46,415.40" fill="none" stroke="#800080" stroke-width="1.5" stroke-linejoin="round" stroke-linecap="square"/>
<polyline points="409.74,388.57 431.21,345.65 452.68,367.11 474.15,356.38 495.63,345.65 517.10,372.48 538.57,399.30 560.05,410.03 581.52,415.40 624.46,415.40" fill="none" stroke="#800080" stroke-width="1.5" stroke-linejoin="round" stroke-linecap="square"/>
<polyline points="409.74,393.94 431.21,377.84 452.68,351.02 474.15,367.11 495.63,356.38 517.10,377.84 538.57,393.94 560.05,404.67 581.52,410.03 602.99,415.40 624.46,415.40" fill="none" stroke="#800080" stroke-width="1.5" stroke-linejoin="round" stroke-linecap="square"/>
<polyline points="409.74,388.57 431.21,367.11 452.68,361.75 474.15,377.84 495.63,367.11 517.10,361.75 538.57,404.67 560.05,410.03 581.52,415.40 624.46,415.40" fill="none" stroke="#800080" stroke-width="1.5" stroke-linejoin="round" stroke-linecap="square"/>
<polyline points="409.74,388.57 431.21,356.38 452.68,372.48 474.15,351.02 495.63,383.21 517.10,367.11 538.57,399.30 560.05,415.40 624.46,415.40" fill="none" stroke="#800080" stroke-width="1.5" stroke-linejoin="round" stroke-linecap="square"/>
<polyline points="409.74,415.40 452.68,410.03 474.15,415.40 495.63,410.03 517.10,410.03 538.57,415.40 624.46,415.40" fill="none" stroke="#ff1493" stroke-width="1.5" stroke-linejoin="round" stroke-linecap="square"/>
<polyline points="409.74,415.40 431.21,410.03 452.68,415.40 474.15,410.03 495.63,415.40 538.57,410.03 560.05,415.40 624.46,415.40" fill="none" stroke="#ff1493" stroke-width="1.5" stroke-linejoin="round" stroke-linecap="square"/>
<polyline points="409.74,415.40 474.15,410.03 495.63,410.03 517.10,415.40 624.46,415.40" fill="none" stroke="#ff1493" stroke-width="1.5" stroke-linejoin="round" stroke-linecap="square"/>
<polyline points="409.74,388.57 409.74,399.30 431.21,377.84 452.68,383.21 474.15,372.48 495.63,388.57 517.10,393.94 538.57,399.30 560.05,404.67 581.52,410.03 602.99,415.40 624.46,415.40" fill="none" stroke="#378c47" stroke-width="1.5" stroke-linejoin="round" stroke-linecap="square"/>
<polyline points="409.74,393.94 431.21,383.21 431.21,367.11 452.68,367.11 474.15,388.57 495.63,377.84 517.10,399.30 538.57,393.94 560.05,410.03 581.52,410.03 602.99,415.40 624.46,415.40" fill="none" stroke="#378c47" stroke-width="1.5" stroke-linejoin="round" stroke-linecap="square"/>
<polyline points="409.74,388.57 431.21,388.57 452.68,377.84 452.68,393.94 474.15,383.21 495.63,393.94 517.10,388.57 538.57,404.67 560.05,404.67 581.52,415.40 624.46,415.40" fill="none" stroke="#378c47" stroke-width="1.5" stroke-linejoin="round" stroke-linecap="square"/>
<polyline points="409.74,399.30 431.21,372.48 431.21,393.94 452.68,388.57 474.15,377.84 474.15,361.75 495.63,383.21 517.10,404.67 538.57,399.30 560.05,410.03 581.52,415.40 624.46,415.40" fill="none" stroke="#378c47" stroke-width="1.5" stroke-linejoin="round" stroke-linecap="square"/>
<polyline points="409.74,393.94 431.21,383.21 452.68,372.48 474.15,367.11 495.63,388.57 495.63,372.48 517.10,393.94 538.57,404.67 560.05,410.03 581.52,410.03 602.99,415.40 624.46,415.40" fill="none" stroke="#378c47" stroke-width="1.5" stroke-linejoin="round" stroke-linecap="square"/>
<polyline points="409.74,388.57 409.74,399.30 431.21,393.94 452.68,383.21 474.15,388.57 495.63,377.84 517.10,399.30 517.10,383.21 538.57,399.30 560.05,404.67 581.52,415.40 624.46,415.40" fill="none" stroke="#378c47" stroke-width="1.5" stroke-linejoin="round" stroke-linecap="square"/>
<polyline points="409.74,399.30 431.21,377.84 452.68,388.57 474.15,383.21 474.15,399.30 495.63,399.30 517.10,388.57 538.57,404.67 560.05,410.03 581.52,415.40 624.46,415.40" fill="none" stroke="#378c47" stroke-width="1.5" stroke-linejoin="round" stroke-linecap="square"/>
<polyline points="409.74,393.94 431.21,388.57 452.68,377.84 452.68,399.30 474.15,393.94 495.63,383.21 495.63,399.30 517.10,404.67 538.57,393.94 560.05,410.03 581.52,415.40 624.46,415.40" fill="none" stroke="#378c47" stroke-width="1.5" stroke-linejoin="round" stroke-linecap="square"/>
<polyline points="409.74,388.57 431.21,383.21 452.68,393.94 474.15,372.48 495.63,388.57 517.10,399.30 517.10,377.84 538.57,410.03 560.05,415.40 624.46,415.40" fill="none" stroke="#378c47" stroke-width="1.5" stroke-linejoin="round" stroke-linecap="square"/>
<polyline points="409.74,404.67 431.21,388.57 452.68,383.21 474.15,388.57 495.63,393.94 517.10,393.94 538.57,404.67 560.05,410.03 581.52,415.40 624.46,415.40" fill="none" stroke="#378c47" stroke-width="1.5" stroke-linejoin="round" stroke-linecap="square"/>
<polyline points="409.74,388.57 431.21,399.30 452.68,399.30 474.15,377.84 495.63,367.11 495.63,393.94 517.10,383.21 538.57,399.30 560.05,410.03 581.52,415.40 624.46,415.40" fill="none" stroke="#378c47" stroke-width="1.5" stroke-linejoin="round" stroke-linecap="square"/>
<polyline points="409.74,404.67 431.21,404.67 452.68,404.67 474.15,404.67 495.63,404.67 517.10,399.30 538.57,388.57 560.05,404.67 581.52,410.03 602.99,410.03 624.46,415.40" fill="none" stroke="#a3e67a" stroke-width="1.5" stroke-linejoin="round" stroke-linecap="square"/>
<polyline points="409.74,404.67 431.21,404.67 452.68,410.03 474.15,404.67 495.63,404.67 517.10,404.67 538.57,404.67 560.05,410.03 581.52,410.03 602.99,415.40 624.46,415.40" fill="none" stroke="#a3e67a" stroke-width="1.5" stroke-linejoin="round" stroke-linecap="square"/>
<polyline points="409.74,410.03 431.21,404.67 452.68,393.94 474.15,404.67 495.63,399.30 517.10,410.03 538.57,404.67 560.05,399.30 581.52,410.03 602.99,415.40 624.46,415.40" fill="none" stroke="#a3e67a" stroke-width="1.5" stroke-linejoin="round" stroke-linecap="square"/>
<polyline points="409.74,404.67 431.21,410.03 452.68,399.30 474.15,388.57 474.15,404.67 495.63,410.03 517.10,404.67 538.57,393.94 560.05,410.03 581.52,404.67 602.99,415.40 624.46,415.40" fill="none" stroke="#a3e67a" stroke-width="1.5" stroke-linejoin="round" stroke-linecap="square"/>
<polyline points="409.74,415.40 431.21,404.67 431.21,388.57 452.68,404.67 474.15,399.30 495.63,393.94 517.10,404.67 538.57,410.03 560.05,404.67 581.52,410.03 602.99,410.03 624.46,415.40" fill="none" stroke="#a3e67a" stroke-width="1.5" stroke-linejoin="round" stroke-linecap="square"/>
<polyline points="409.74,410.03 431.21,399.30 452.68,404.67 474.15,410.03 495.63,399.30 495.63,383.21 517.10,393.94 538.57,377.84 538.57,404.67 560.05,410.03 581.52,415.40 624.46,415.40" fill="none" stroke="#a3e67a" stroke-width="1.5" stroke-linejoin="round" stroke-linecap="square"/>
<polyline points="409.74,404.67 431.21,404.67 452.68,388.57 474.15,399.30 495.63,404.67 517.10,399.30 517.10,383.21 538.57,399.30 560.05,404.67 581.52,410.03 602.99,415.40 624.46,415.40" fill="none" stroke="#a3e67a" stroke-width="1.5" stroke-linejoin="round" stroke-linecap="square"/>
<polyline points="409.74,415.40 431.21,410.03 452.68,404.67 474.15,399.30 495.63,393.94 517.10,372.48 538.57,329.56 540.72,345.65 560.05,367.11 581.52,383.21 602.99,393.94 624.46,399.30" fill="none" stroke="#a4e8b2" stroke-width="1.5" stroke-linejoin="round" stroke-linecap="square"/>
<polyline points="409.74,415.40 431.21,410.03 452.68,404.67 474.15,399.30 495.63,404.67 517.10,393.94 538.57,383.21 560.05,372.48 581.52,388.57 602.99,399.30 624.46,377.84" fill="none" stroke="#a4e8b2" stroke-width="1.5" stroke-linejoin="round" stroke-linecap="square"/>
<polyline points="409.74,415.40 431.21,415.40 452.68,410.03 474.15,404.67 495.63,399.30 517.10,388.57 538.57,393.94 560.05,383.21 581.52,388.57 602.99,404.67 624.46,404.67" fill="none" stroke="#a4e8b2" stroke-width="1.5" stroke-linejoin="round" stroke-linecap="square"/>
<polyline points="409.74,415.40 431.21,410.03 452.68,410.03 474.15,399.30 495.63,404.67 517.10,399.30 538.57,388.57 560.05,377.84 581.52,393.94 602.99,399.30 624.46,410.03" fill="none" stroke="#a4e8b2" stroke-width="1.5" stroke-linejoin="round" stroke-linecap="square"/>
<polyline points="409.74,415.40 431.21,415.40 452.68,404.67 474.15,404.67 495.63,393.94 517.10,399.30 538.57,393.94 560.05,388.57 581.52,383.21 602.99,404.67 624.46,404.67" fill="none" stroke="#a4e8b2" stroke-width="1.5" stroke-linejoin="round" stroke-linecap="square"/>
<polyline points="409.74,415.40 431.21,410.03 452.68,410.03 474.15,404.67 495.63,399.30 517.10,393.94 538.57,399.30 560.05,393.94 581.52,399.30 602.99,393.94 624.46,410.03" fill="none" stroke="#a4e8b2" stroke-width="1.5" stroke-linejoin="round" stroke-linecap="square"/>
<polyline points="409.74,415.40 431.21,415.40 452.68,410.03 474.15,399.30 495.63,404.67 517.10,388.57 538.57,383.21 560.05,388.57 581.52,393.94 602.99,404.67 624.46,399.30" fill="none" stroke="#a4e8b2" stroke-width="1.5" stroke-linejoin="round" stroke-linecap="square"/>
<polyline points="409.74,415.40 431.21,415.40 452.68,415.40 474.15,415.40 495.63,415.40 517.10,415.40 538.57,415.40 560.05,415.40 581.52,410.03 602.99,404.67 624.46,399.30" fill="none" stroke="#f5a030" stroke-width="1.5" stroke-linejoin="round" stroke-linecap="square"/>
<polyline points="409.74,415.40 431.21,415.40 452.68,415.40 474.15,415.40 495.63,415.40 517.10,415.40 538.57,415.40 560.05,410.03 581.52,410.03 602.99,399.30 624.46,404.67" fill="none" stroke="#f5a030" stroke-width="1.5" stroke-linejoin="round" stroke-linecap="square"/>
<polyline points="409.74,415.40 431.21,415.40 452.68,415.40 474.15,415.40 495.63,415.40 517.10,415.40 538.57,415.40 560.05,415.40 581.52,404.67 602.99,410.03 624.46,410.03" fill="none" stroke="#f5a030" stroke-width="1.5" stroke-linejoin="round" stroke-linecap="square"/>
<polyline points="409.74,415.40 431.21,415.40 452.68,415.40 474.15,415.40 495.63,415.40 517.10,415.40 538.57,415.40 560.05,415.40 581.52,410.03 602.99,410.03 624.46,404.67" fill="none" stroke="#f5a030" stroke-width="1.5" stroke-linejoin="round" stroke-linecap="square"/>
<polyline points="409.74,414.52 431.21,413.63 452.68,412.44 474.15,411.55 495.63,410.96 517.10,410.67 538.57,410.96 560.05,412.15 581.52,413.04 602.99,413.92 624.46,414.52" fill="none" stroke="#c2f72a" stroke-width="1.5" stroke-linejoin="round" stroke-linecap="square"/>
<polyline points="409.74,414.37 431.21,413.37 452.68,412.04 474.15,411.05 495.63,410.38 517.10,410.05 538.57,410.38 560.05,411.71 581.52,412.71 602.99,413.71 624.46,414.37" fill="none" stroke="#c2f72a" stroke-width="1.5" stroke-linejoin="round" stroke-linecap="square"/>
<polyline points="409.74,414.23 431.21,413.12 452.68,411.65 474.15,410.54 495.63,409.80 517.10,409.43 538.57,409.80 560.05,411.28 581.52,412.38 602.99,413.49 624.46,414.23" fill="none" stroke="#c2f72a" stroke-width="1.5" stroke-linejoin="round" stroke-linecap="square"/>
<polyline points="409.74,414.08 431.21,412.87 452.68,411.25 474.15,410.03 495.63,409.22 517.10,408.82 538.57,409.22 560.05,410.84 581.52,412.06 602.99,413.27 624.46,414.08" fill="none" stroke="#c2f72a" stroke-width="1.5" stroke-linejoin="round" stroke-linecap="square"/>
<polyline points="409.74,413.94 431.21,412.61 452.68,410.85 474.15,409.52 495.63,408.64 517.10,408.20 538.57,408.64 560.05,410.41 581.52,411.73 602.99,413.05 624.46,413.94" fill="none" stroke="#c2f72a" stroke-width="1.5" stroke-linejoin="round" stroke-linecap="square"/>
<polyline points="409.74,413.79 431.21,412.36 452.68,410.45 474.15,409.02 495.63,408.06 517.10,407.58 538.57,408.06 560.05,409.97 581.52,411.40 602.99,412.84 624.46,413.79" fill="none" stroke="#c2f72a" stroke-width="1.5" stroke-linejoin="round" stroke-linecap="square"/>
<polyline points="409.74,413.65 431.21,412.10 452.68,410.05 474.15,408.51 495.63,407.48 517.10,406.97 538.57,407.48 560.05,409.54 581.52,411.08 602.99,412.62 624.46,413.65" fill="none" stroke="#c2f72a" stroke-width="1.5" stroke-linejoin="round" stroke-linecap="square"/>
<polyline points="409.74,413.50 431.21,411.85 452.68,409.65 474.15,408.00 495.63,406.90 517.10,406.35 538.57,406.90 560.05,409.10 581.52,410.75 602.99,412.40 624.46,413.50" fill="none" stroke="#c2f72a" stroke-width="1.5" stroke-linejoin="round" stroke-linecap="square"/>
<polyline points="409.74,415.70 431.21,415.70 452.68,415.70 474.15,415.70 495.63,415.70 517.10,414.01 538.57,398.78 560.05,356.48 581.52,306.57 602.99,276.11 624.46,276.11" fill="none" stroke="#ff0000" stroke-width="1.5" stroke-linejoin="round" stroke-linecap="square"/>
<polyline points="409.74,415.70 431.21,415.70 452.68,415.70 474.15,415.70 495.63,415.70 517.10,414.18 538.57,399.63 560.05,359.44 581.52,309.10 602.99,276.96 624.46,270.19" fill="none" stroke="#ff0000" stroke-width="1.5" stroke-linejoin="round" stroke-linecap="square"/>
<polyline points="409.74,415.70 431.21,415.70 452.68,415.70 474.15,415.70 495.63,415.70 517.10,414.35 538.57,401.66 560.05,364.09 581.52,313.50 602.99,280.34 624.46,273.06" fill="none" stroke="#ff0000" stroke-width="1.5" stroke-linejoin="round" stroke-linecap="square"/>
<polyline points="409.74,415.70 431.21,415.70 452.68,415.70 474.15,415.70 495.63,415.70 517.10,414.52 538.57,403.09 560.05,367.90 581.52,316.97 602.99,282.88 624.46,274.08" fill="none" stroke="#ff0000" stroke-width="1.5" stroke-linejoin="round" stroke-linecap="square"/>
<polyline points="409.74,415.70 431.21,415.70 452.68,415.70 474.15,415.70 495.63,415.70 517.10,414.68 538.57,404.28 560.05,370.95 581.52,319.76 602.99,284.91 624.46,274.93" fill="none" stroke="#ff0000" stroke-width="1.5" stroke-linejoin="round" stroke-linecap="square"/>
<polyline points="409.74,415.70 431.21,415.70 452.68,415.70 474.15,415.70 495.63,415.70 517.10,414.94 538.57,406.73 560.05,377.46 581.52,325.60 602.99,289.22 624.46,276.62" fill="none" stroke="#ff0000" stroke-width="1.5" stroke-linejoin="round" stroke-linecap="square"/>
<polyline points="409.74,415.70 431.21,415.70 452.68,415.70 474.15,415.70 495.63,415.70 517.10,415.11 538.57,408.26 560.05,381.61 581.52,329.49 602.99,292.01 624.46,277.72" fill="none" stroke="#ff0000" stroke-width="1.5" stroke-linejoin="round" stroke-linecap="square"/>
<polyline points="409.74,415.70 431.21,415.70 452.68,415.70 474.15,415.70 495.63,415.70 517.10,415.45 538.57,410.88 560.05,388.46 581.52,335.67 602.99,296.58 624.46,279.58" fill="none" stroke="#ff0000" stroke-width="1.5" stroke-linejoin="round" stroke-linecap="square"/>
<polyline points="409.74,415.70 431.21,415.70 452.68,415.70 474.15,415.70 495.63,415.70 517.10,415.70 538.57,413.16 560.05,394.55 581.52,341.25 602.99,300.64 624.46,281.19" fill="none" stroke="#ff0000" stroke-width="1.5" stroke-linejoin="round" stroke-linecap="square"/>
</g>
<rect x="399.0" y="263.2" width="236.20" height="159.30" fill="none" stroke="#000" stroke-width="0.85"/>
<line x1="635.20" y1="263.20" x2="635.20" y2="422.50" stroke="#000" stroke-width="0.85"/>
<line x1="409.74" y1="422.50" x2="409.74" y2="426.00" stroke="#000" stroke-width="0.85"/>
<text x="409.74" y="441.90" font-size="16.80" text-anchor="middle" fill="#000" textLength="10.18" lengthAdjust="spacingAndGlyphs">0</text>
<line x1="452.68" y1="422.50" x2="452.68" y2="426.00" stroke="#000" stroke-width="0.85"/>
<text x="452.68" y="441.90" font-size="16.80" text-anchor="middle" fill="#000" textLength="10.18" lengthAdjust="spacingAndGlyphs">2</text>
<line x1="495.63" y1="422.50" x2="495.63" y2="426.00" stroke="#000" stroke-width="0.85"/>
<text x="495.63" y="441.90" font-size="16.80" text-anchor="middle" fill="#000" textLength="10.18" lengthAdjust="spacingAndGlyphs">4</text>
<line x1="538.57" y1="422.50" x2="538.57" y2="426.00" stroke="#000" stroke-width="0.85"/>
<text x="538.57" y="441.90" font-size="16.80" text-anchor="middle" fill="#000" textLength="10.18" lengthAdjust="spacingAndGlyphs">6</text>
<line x1="581.52" y1="422.50" x2="581.52" y2="426.00" stroke="#000" stroke-width="0.85"/>
<text x="581.52" y="441.90" font-size="16.80" text-anchor="middle" fill="#000" textLength="10.18" lengthAdjust="spacingAndGlyphs">8</text>
<line x1="624.46" y1="422.50" x2="624.46" y2="426.00" stroke="#000" stroke-width="0.85"/>
<text x="624.46" y="441.90" font-size="16.80" text-anchor="middle" fill="#000" textLength="20.36" lengthAdjust="spacingAndGlyphs">10</text>
<line x1="395.50" y1="415.40" x2="399.00" y2="415.40" stroke="#000" stroke-width="0.85"/>
<text x="393.00" y="421.60" font-size="16.80" text-anchor="end" fill="#000" textLength="10.18" lengthAdjust="spacingAndGlyphs">0</text>
<line x1="395.50" y1="388.57" x2="399.00" y2="388.57" stroke="#000" stroke-width="0.85"/>
<text x="393.00" y="394.77" font-size="16.80" text-anchor="end" fill="#000" textLength="10.18" lengthAdjust="spacingAndGlyphs">5</text>
<line x1="395.50" y1="361.75" x2="399.00" y2="361.75" stroke="#000" stroke-width="0.85"/>
<text x="393.00" y="367.95" font-size="16.80" text-anchor="end" fill="#000" textLength="20.36" lengthAdjust="spacingAndGlyphs">10</text>
<line x1="395.50" y1="334.92" x2="399.00" y2="334.92" stroke="#000" stroke-width="0.85"/>
<text x="393.00" y="341.12" font-size="16.80" text-anchor="end" fill="#000" textLength="20.36" lengthAdjust="spacingAndGlyphs">15</text>
<line x1="395.50" y1="308.10" x2="399.00" y2="308.10" stroke="#000" stroke-width="0.85"/>
<text x="393.00" y="314.30" font-size="16.80" text-anchor="end" fill="#000" textLength="20.36" lengthAdjust="spacingAndGlyphs">20</text>
<line x1="395.50" y1="281.27" x2="399.00" y2="281.27" stroke="#000" stroke-width="0.85"/>
<text x="393.00" y="287.47" font-size="16.80" text-anchor="end" fill="#000" textLength="20.36" lengthAdjust="spacingAndGlyphs">25</text>
<line x1="635.20" y1="415.70" x2="638.70" y2="415.70" stroke="#0000ff" stroke-width="0.85"/>
<text x="642.20" y="421.90" font-size="16.80" text-anchor="start" fill="#0000ff" textLength="25.45" lengthAdjust="spacingAndGlyphs">0.0</text>
<line x1="635.20" y1="394.55" x2="638.70" y2="394.55" stroke="#0000ff" stroke-width="0.85"/>
<text x="642.20" y="400.75" font-size="16.80" text-anchor="start" fill="#0000ff" textLength="25.45" lengthAdjust="spacingAndGlyphs">0.2</text>
<line x1="635.20" y1="373.40" x2="638.70" y2="373.40" stroke="#0000ff" stroke-width="0.85"/>
<text x="642.20" y="379.60" font-size="16.80" text-anchor="start" fill="#0000ff" textLength="25.45" lengthAdjust="spacingAndGlyphs">0.5</text>
<line x1="635.20" y1="352.25" x2="638.70" y2="352.25" stroke="#0000ff" stroke-width="0.85"/>
<text x="642.20" y="358.45" font-size="16.80" text-anchor="start" fill="#0000ff" textLength="25.45" lengthAdjust="spacingAndGlyphs">0.8</text>
<line x1="635.20" y1="331.10" x2="638.70" y2="331.10" stroke="#0000ff" stroke-width="0.85"/>
<text x="642.20" y="337.30" font-size="16.80" text-anchor="start" fill="#0000ff" textLength="25.45" lengthAdjust="spacingAndGlyphs">1.0</text>
<line x1="635.20" y1="309.95" x2="638.70" y2="309.95" stroke="#0000ff" stroke-width="0.85"/>
<text x="642.20" y="316.15" font-size="16.80" text-anchor="start" fill="#0000ff" textLength="25.45" lengthAdjust="spacingAndGlyphs">1.2</text>
<line x1="635.20" y1="288.80" x2="638.70" y2="288.80" stroke="#0000ff" stroke-width="0.85"/>
<text x="642.20" y="295.00" font-size="16.80" text-anchor="start" fill="#0000ff" textLength="25.45" lengthAdjust="spacingAndGlyphs">1.5</text>
<line x1="635.20" y1="267.65" x2="638.70" y2="267.65" stroke="#0000ff" stroke-width="0.85"/>
<text x="642.20" y="273.85" font-size="16.80" text-anchor="start" fill="#0000ff" textLength="25.45" lengthAdjust="spacingAndGlyphs">1.8</text>
<path d="M596.25,251.45 L603.95,259.35 M603.95,251.45 L596.25,259.35" stroke="#0000ff" stroke-width="1.4" fill="none"/>
<text x="607.10" y="260.40" font-size="16.80" text-anchor="start" fill="#0000ff" textLength="20.36" lengthAdjust="spacingAndGlyphs">10</text>
<text x="627.80" y="254.10" font-size="12.39" text-anchor="start" fill="#0000ff" textLength="7.51" lengthAdjust="spacingAndGlyphs">3</text>
<text x="517.00" y="460.60" font-size="16.80" text-anchor="middle" fill="#000" textLength="94.98" lengthAdjust="spacingAndGlyphs">Time (days)</text>
<text transform="translate(364.50,342.50) rotate(-90)" x="0" y="0" font-size="16.80" text-anchor="middle" fill="#000" textLength="130.31" lengthAdjust="spacingAndGlyphs">Number of Cells</text>
<text transform="translate(683.30,342.50) rotate(-90)" x="0" y="0" font-size="16.80" text-anchor="middle" fill="#0000ff" textLength="130.31" lengthAdjust="spacingAndGlyphs">Number of Cells</text>
<text x="332.70" y="247.80" font-size="19.60" text-anchor="start" fill="#000" textLength="21.66" lengthAdjust="spacingAndGlyphs">D)</text>
<rect x="17.6" y="477.20000000000005" width="289.9" height="38.799999999999955" rx="2.5" fill="#000" opacity="0.4"/>
<rect x="15.6" y="474.6" width="289.9" height="38.799999999999955" rx="2.5" fill="#fff" stroke="#cccccc" stroke-width="0.9"/>
<line x1="18.20" y1="486.40" x2="36.20" y2="486.40" stroke="#0000ff" stroke-width="1.5"/>
<line x1="18.20" y1="504.50" x2="36.20" y2="504.50" stroke="#bccb30" stroke-width="1.5"/>
<text x="42.60" y="489.00" font-size="15.40" text-anchor="start" fill="#000" textLength="96.06" lengthAdjust="spacingAndGlyphs">parenchymal</text>
<text x="42.60" y="508.00" font-size="15.40" text-anchor="start" fill="#000" textLength="87.02" lengthAdjust="spacingAndGlyphs">cancer cells</text>
<line x1="154.40" y1="486.40" x2="171.10" y2="486.40" stroke="#7f7f7f" stroke-width="1.35" stroke-dasharray="8.64 2.16 1.35 2.16"/>
<line x1="154.40" y1="504.60" x2="171.10" y2="504.60" stroke="#7f7f7f" stroke-width="1.35" stroke-dasharray="5.00 2.16"/>
<text x="178.20" y="489.00" font-size="15.40" text-anchor="start" fill="#000" textLength="123.33" lengthAdjust="spacingAndGlyphs">Threshold for NC</text>
<text x="178.20" y="508.00" font-size="15.40" text-anchor="start" fill="#000" textLength="121.67" lengthAdjust="spacingAndGlyphs">Threshold for SC</text>
<rect x="368.6" y="477.6" width="302.29999999999995" height="38.39999999999998" rx="2.5" fill="#000" opacity="0.4"/>
<rect x="366.6" y="475.0" width="302.29999999999995" height="38.39999999999998" rx="2.5" fill="#fff" stroke="#cccccc" stroke-width="0.9"/>
<line x1="369.10" y1="486.40" x2="387.10" y2="486.40" stroke="#800080" stroke-width="1.5"/>
<line x1="369.10" y1="504.50" x2="387.10" y2="504.50" stroke="#ff1493" stroke-width="1.5"/>
<text x="392.60" y="489.00" font-size="15.40" text-anchor="start" fill="#000" textLength="25.62" lengthAdjust="spacingAndGlyphs">iDC</text>
<text x="392.60" y="508.00" font-size="15.40" text-anchor="start" fill="#000" textLength="30.53" lengthAdjust="spacingAndGlyphs">aDC</text>
<line x1="439.10" y1="486.40" x2="457.10" y2="486.40" stroke="#378c47" stroke-width="1.5"/>
<line x1="439.10" y1="504.50" x2="457.10" y2="504.50" stroke="#a3e67a" stroke-width="1.5"/>
<text x="462.60" y="489.00" font-size="15.40" text-anchor="start" fill="#000" textLength="21.99" lengthAdjust="spacingAndGlyphs">M0</text>
<text x="462.60" y="508.00" font-size="15.40" text-anchor="start" fill="#000" textLength="30.53" lengthAdjust="spacingAndGlyphs">eMP</text>
<line x1="508.90" y1="486.40" x2="526.90" y2="486.40" stroke="#a4e8b2" stroke-width="1.5"/>
<line x1="508.90" y1="504.50" x2="526.90" y2="504.50" stroke="#f5a030" stroke-width="1.5"/>
<text x="532.40" y="489.00" font-size="15.40" text-anchor="start" fill="#000" textLength="30.80" lengthAdjust="spacingAndGlyphs">hMP</text>
<text x="532.40" y="508.00" font-size="15.40" text-anchor="start" fill="#000" textLength="43.16" lengthAdjust="spacingAndGlyphs">CD4+</text>
<line x1="592.10" y1="486.40" x2="610.10" y2="486.40" stroke="#c2f72a" stroke-width="1.5"/>
<line x1="592.10" y1="504.50" x2="610.10" y2="504.50" stroke="#ff0000" stroke-width="1.5"/>
<text x="615.60" y="489.00" font-size="15.40" text-anchor="start" fill="#0000ff" textLength="48.92" lengthAdjust="spacingAndGlyphs">M1/M2</text>
<text x="615.60" y="508.00" font-size="15.40" text-anchor="start" fill="#0000ff" textLength="43.16" lengthAdjust="spacingAndGlyphs">CD8+</text>
</g>
</svg>
</body></html>
